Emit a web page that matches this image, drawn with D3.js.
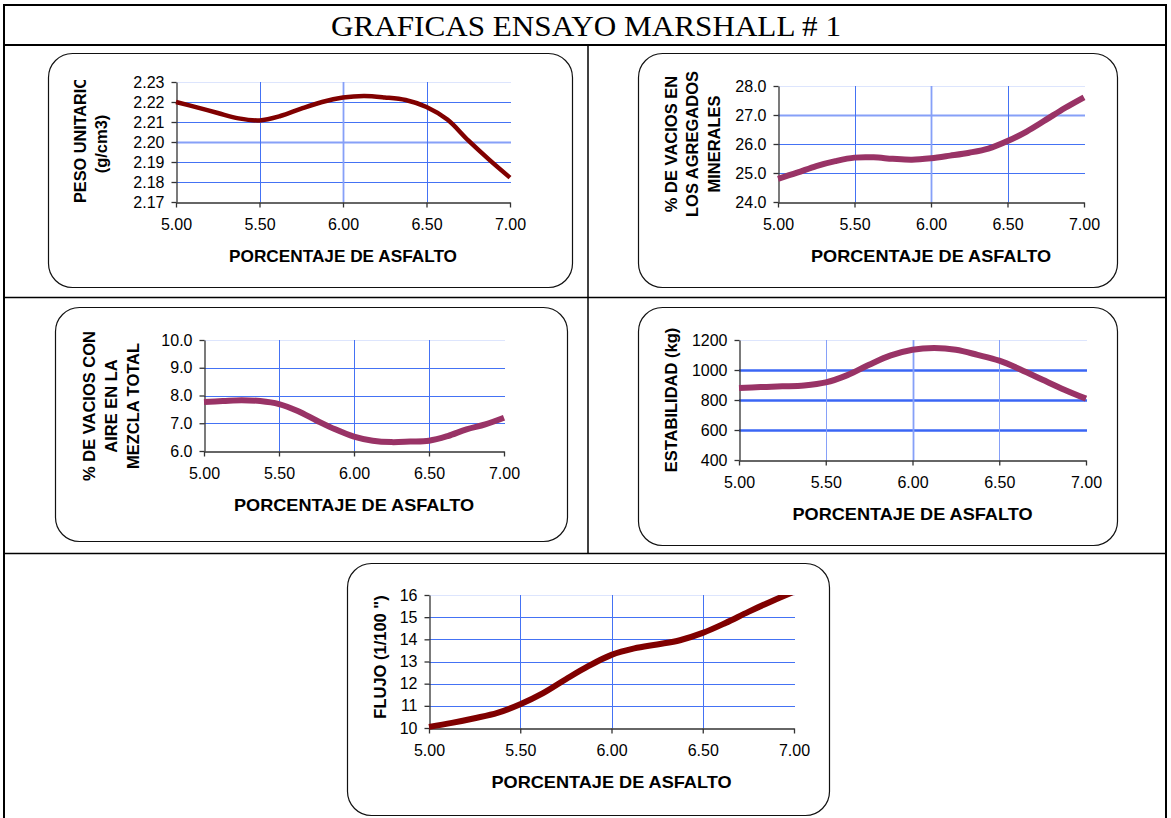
<!DOCTYPE html>
<html>
<head>
<meta charset="utf-8">
<script src="https://cdn.jsdelivr.net/npm/d3@7"></script>
<style>
  html, body { margin: 0; padding: 0; background: #ffffff; }
  svg { display: block; }
  text { font-family: "Liberation Sans", Arial, sans-serif; fill: #000; }
</style>
</head>
<body>
<svg id="sheet" width="1171" height="818"></svg>
<script>
// Asphalt content (%) at which each curve is read
const asphalt = [5.000, 5.125, 5.250, 5.375, 5.500, 5.625, 5.750, 5.875, 6.000,
                 6.125, 6.250, 6.375, 6.500, 6.625, 6.750, 6.875, 7.000];

// Marshall test results
const pesoUnitario = [2.2200, 2.2173, 2.2145, 2.2118, 2.2108, 2.2130, 2.2167, 2.2200, 2.2222,
                      2.2230, 2.2223, 2.2210, 2.2175, 2.2112, 2.2008, 2.1912, 2.1822];
const vaciosAgregados = [24.80, 25.01, 25.24, 25.41, 25.53, 25.54, 25.49, 25.46, 25.51,
                         25.60, 25.70, 25.84, 26.10, 26.43, 26.83, 27.24, 27.61];
const vaciosMezcla = [7.77, 7.80, 7.83, 7.80, 7.69, 7.44, 7.10, 6.78, 6.52,
                      6.37, 6.32, 6.34, 6.37, 6.54, 6.78, 6.96, 7.20];
const estabilidad = [880, 886, 891, 897, 917, 966, 1035, 1097, 1135,
                     1146, 1135, 1101, 1062, 1002, 935, 869, 809];
const flujo = [10.05, 10.23, 10.44, 10.68, 11.07, 11.57, 12.20, 12.80, 13.30,
               13.59, 13.77, 13.96, 14.29, 14.74, 15.24, 15.71, 16.15];

// Axis ticks
const xTicks = [5.0, 5.5, 6.0, 6.5, 7.0];
const pesoTicks = [2.17, 2.18, 2.19, 2.20, 2.21, 2.22, 2.23];
const vmaTicks = [24, 25, 26, 27, 28];
const vaciosTicks = [6, 7, 8, 9, 10];
const estabTicks = [400, 600, 800, 1000, 1200];
const flujoTicks = [10, 11, 12, 13, 14, 15, 16];

// Text
const sheetTitle = "GRAFICAS ENSAYO MARSHALL # 1";
const xTitle = "PORCENTAJE DE ASFALTO";

const DARK_RED = "#800000";
const PLUM = "#993366";
const GRID = "#4472f4";
const GRID_SOFT = "#86a0f8";
const GRID_FAINT = "#dde5fd";

const svg = d3.select("#sheet");

// ---- table frame ----
const frame = svg.append("g").attr("fill", "none").attr("stroke", "#000");
frame.append("rect").attr("x", 4).attr("y", 5).attr("width", 1162).attr("height", 830).attr("stroke-width", 2);
frame.append("line").attr("x1", 4).attr("x2", 1166).attr("y1", 45).attr("y2", 45).attr("stroke-width", 2);
frame.append("line").attr("x1", 4).attr("x2", 1166).attr("y1", 297.5).attr("y2", 297.5).attr("stroke-width", 1.5);
frame.append("line").attr("x1", 4).attr("x2", 1166).attr("y1", 553.5).attr("y2", 553.5).attr("stroke-width", 1.5);
frame.append("line").attr("x1", 588).attr("x2", 588).attr("y1", 45).attr("y2", 553.5).attr("stroke-width", 1.5);

svg.append("text")
  .attr("x", 586).attr("y", 36)
  .attr("text-anchor", "middle")
  .attr("textLength", 510).attr("lengthAdjust", "spacingAndGlyphs")
  .style("font-family", '"Liberation Serif", "Times New Roman", serif')
  .style("font-size", "29px")
  .text(sheetTitle);

// ---- chart definitions ----
const charts = [
  {
    id: "peso", values: pesoUnitario, yTicks: pesoTicks, fmt: ".2f",
    box: [48, 53, 524, 234], plot: [176, 82, 510, 202],
    color: DARK_RED, width: 4.5,
    yTitle: ["PESO UNITARIO", "(g/cm3)"], yBase: [86, 107], yCenter: 144,
    clipTitle: true, xTitleLen: 228,
    softY: [2.20], softX: [6.0]
  },
  {
    id: "vma", values: vaciosAgregados, yTicks: vmaTicks, fmt: ".1f",
    box: [638, 53, 479, 234], plot: [778, 86, 1084, 202],
    color: PLUM, width: 6,
    yTitle: ["% DE VACIOS EN", "LOS AGREGADOS", "MINERALES"], yBase: [677, 698, 720], yCenter: 144,
    xTitleLen: 240,
    softY: [27], softX: [6.0]
  },
  {
    id: "vacios", values: vaciosMezcla, yTicks: vaciosTicks, fmt: ".1f",
    box: [55, 307, 512, 234], plot: [204, 340, 504, 451],
    color: PLUM, width: 6,
    yTitle: ["% DE VACIOS CON", "AIRE EN LA", "MEZCLA TOTAL"], yBase: [95, 117, 139], yCenter: 406,
    xTitleLen: 240,
    softY: [], softX: []
  },
  {
    id: "estab", values: estabilidad, yTicks: estabTicks, fmt: "d",
    box: [638, 307, 479, 238], plot: [739, 340, 1086, 460],
    color: PLUM, width: 6,
    yTitle: ["ESTABILIDAD (kg)"], yBase: [677], yCenter: 400,
    xTitleLen: 240,
    softY: [], softX: [5.5, 6.0, 6.5], boldY: [600, 800, 1000]
  },
  {
    id: "flujo", values: flujo, yTicks: flujoTicks, fmt: "d",
    box: [347, 563, 482, 252], plot: [429, 595, 794, 728],
    color: DARK_RED, width: 6,
    yTitle: ["FLUJO (1/100 \")"], yBase: [386], yCenter: 657,
    xTitleLen: 240,
    softY: [], softX: []
  }
];

charts.forEach(c => drawChart(c));

function drawChart(c) {
  const [bx, by, bw, bh] = c.box;
  const [x0, y0, x1, y1] = c.plot;
  const g = svg.append("g").attr("class", "chart-" + c.id);

  // rounded frame
  g.append("rect")
    .attr("x", bx + 0.5).attr("y", by + 0.5)
    .attr("width", bw).attr("height", bh)
    .attr("rx", 24).attr("ry", 24)
    .attr("fill", "#fff").attr("stroke", "#111").attr("stroke-width", 1.2);

  const x = d3.scaleLinear().domain([xTicks[0], xTicks[xTicks.length - 1]]).range([x0, x1]);
  const y = d3.scaleLinear().domain([c.yTicks[0], c.yTicks[c.yTicks.length - 1]]).range([y1, y0]);
  const yMax = c.yTicks[c.yTicks.length - 1];

  // horizontal gridlines
  g.append("g").selectAll("line")
    .data(c.yTicks.slice(1))
    .join("line")
    .attr("x1", x0).attr("x2", x1 + 1)
    .attr("y1", d => Math.round(y(d)) + 0.5).attr("y2", d => Math.round(y(d)) + 0.5)
    .attr("stroke", d => d === yMax ? GRID_FAINT
      : (c.boldY && c.boldY.includes(d)) ? "#3a66f5"
      : c.softY.includes(d) ? GRID_SOFT : GRID)
    .attr("stroke-width", d => (c.boldY && c.boldY.includes(d)) ? 2.6
      : (c.softY.includes(d) && d !== yMax) ? 1.8 : 1);

  // vertical gridlines
  g.append("g").selectAll("line")
    .data(xTicks.slice(1, -1))
    .join("line")
    .attr("x1", d => Math.round(x(d)) + 0.5).attr("x2", d => Math.round(x(d)) + 0.5)
    .attr("y1", y0).attr("y2", y1)
    .attr("stroke", d => c.softX.includes(d) ? GRID_SOFT : GRID)
    .attr("stroke-width", d => (c.softX.includes(d) && d === 6.0) ? 1.8 : 1);

  // axes
  const xAxis = d3.axisBottom(x).tickValues(xTicks).tickFormat(d3.format(".2f"))
    .tickSize(5).tickPadding(8).tickSizeOuter(0);
  const yAxis = d3.axisLeft(y).tickValues(c.yTicks).tickFormat(d3.format(c.fmt))
    .tickSize(5).tickPadding(7).tickSizeOuter(0);

  const gx = g.append("g").attr("transform", `translate(0,${Math.round(y1) + 0.5})`).call(xAxis);
  const gy = g.append("g").attr("transform", `translate(${Math.round(x0) + 0.5},0)`).call(yAxis);
  [gx, gy].forEach(a => {
    a.selectAll("path, line").attr("stroke", "#333").attr("stroke-width", 1.3);
    a.selectAll("text").style("font-size", "16px")
      .style("font-family", '"Liberation Sans", Arial, sans-serif').attr("fill", "#111");
  });
  gx.selectAll("text").attr("dy", "0.92em");

  // x-axis title
  g.append("text")
    .attr("x", (x0 + x1) / 2).attr("y", y1 + 60)
    .attr("text-anchor", "middle")
    .attr("textLength", c.xTitleLen).attr("lengthAdjust", "spacingAndGlyphs")
    .style("font-size", "16.5px").style("font-weight", "bold")
    .text(xTitle);

  // y-axis title (rotated, one text per line)
  let clipId = null;
  if (c.clipTitle) {
    clipId = "clip-ytitle-" + c.id;
    g.append("clipPath").attr("id", clipId)
      .append("rect").attr("x", bx).attr("y", y0 - 2).attr("width", x0 - bx).attr("height", bh);
  }
  c.yTitle.forEach((line, i) => {
    const t = g.append("text")
      .attr("transform", `translate(${c.yBase[i]},${c.yCenter}) rotate(-90)`)
      .style("font-size", "16.5px").style("font-weight", "bold");
    if (c.clipTitle && i === 0) {
      // first line runs from the bottom of the plot and is cut by the plot's top edge
      t.attr("transform", `translate(${c.yBase[i]},${y1 + 1}) rotate(-90)`)
        .attr("text-anchor", "start")
        .attr("textLength", 127).attr("lengthAdjust", "spacingAndGlyphs");
      const wrap = g.append("g").attr("clip-path", `url(#${clipId})`);
      wrap.node().appendChild(t.node());
    } else {
      t.attr("text-anchor", "middle");
    }
    t.text(line);
  });

  // data line, cut at the plot area like the spreadsheet does
  const clipLine = "clip-line-" + c.id;
  g.append("clipPath").attr("id", clipLine)
    .append("rect").attr("x", x0 - 4).attr("y", y0).attr("width", x1 - x0 + 8).attr("height", y1 - y0 + 4);

  const pts = asphalt.map((a, i) => [a, c.values[i]]);
  g.append("path")
    .datum(pts)
    .attr("clip-path", `url(#${clipLine})`)
    .attr("fill", "none")
    .attr("stroke", c.color)
    .attr("stroke-width", c.width)
    .attr("stroke-linejoin", "round")
    .attr("d", d3.line().x(d => x(d[0])).y(d => y(d[1])).curve(d3.curveCatmullRom.alpha(0.5)));
}
</script>
</body>
</html>
